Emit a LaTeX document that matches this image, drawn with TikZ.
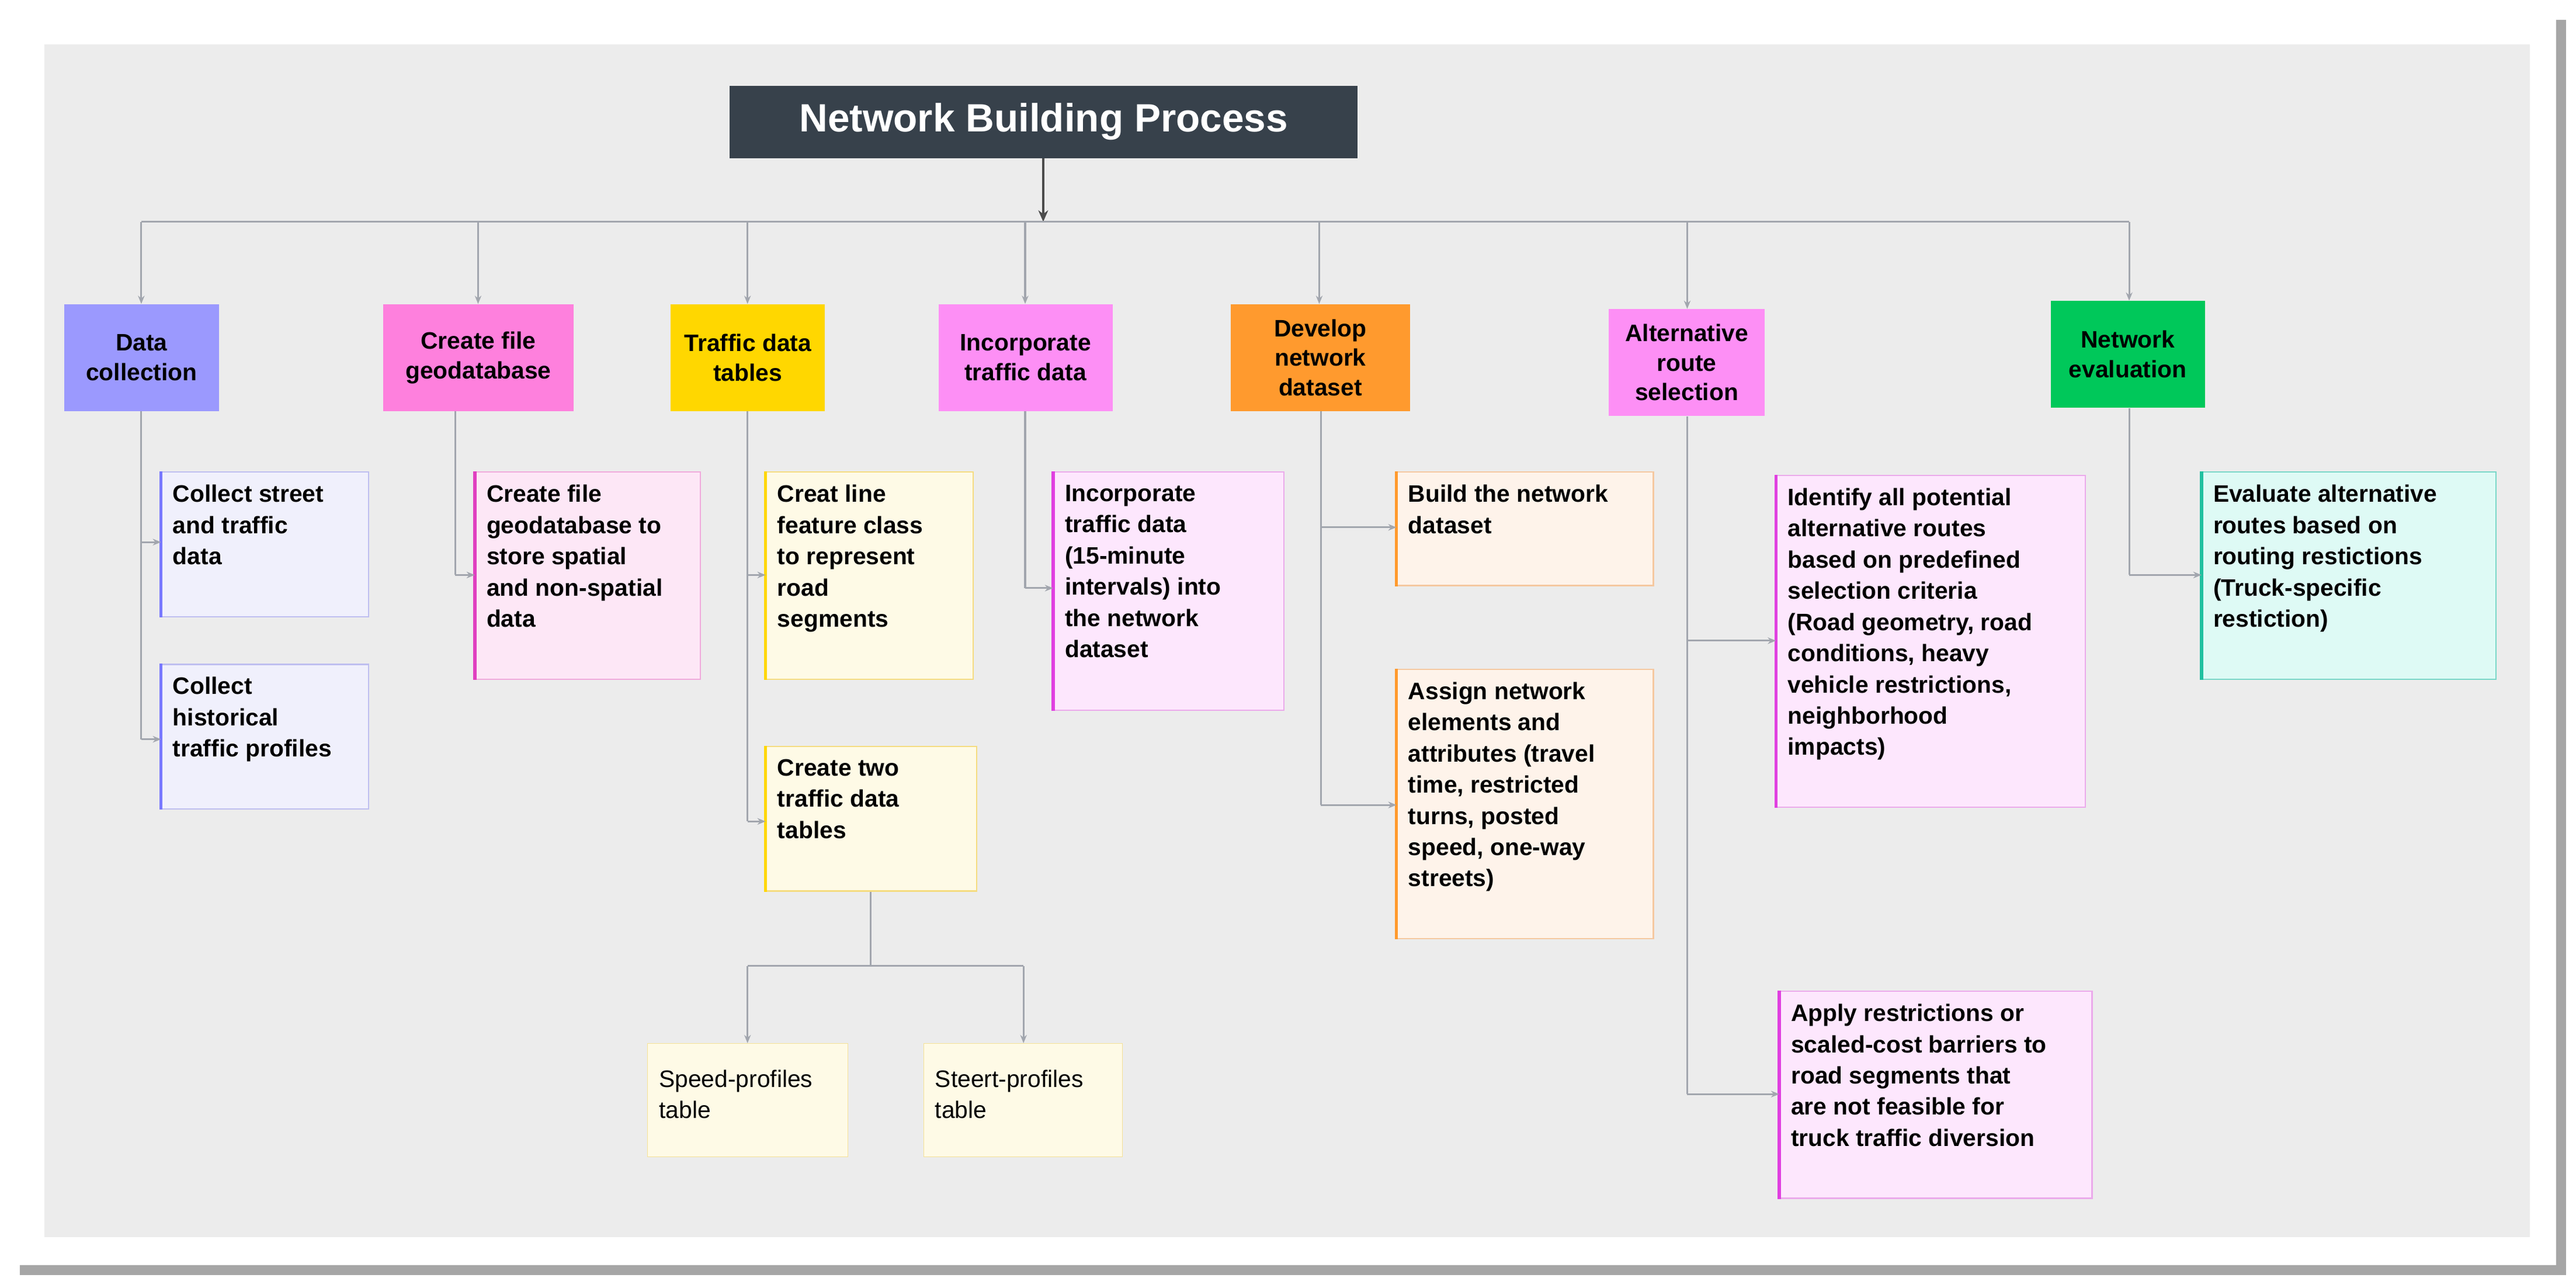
\documentclass[tikz,border=0pt]{standalone}
\usepackage{fontspec}
\setmainfont{Liberation Sans}
\usetikzlibrary{arrows.meta,calc}
\definecolor{bg}{HTML}{ECECEC}
\definecolor{con}{HTML}{A2A6AE}
\definecolor{ttl}{HTML}{37414B}
\definecolor{hA}{HTML}{9B99FE}\definecolor{fA}{HTML}{F0F0FC}\definecolor{dA}{HTML}{BEBEF0}\definecolor{bA}{HTML}{7878FF}
\definecolor{hB}{HTML}{FE80DD}\definecolor{fB}{HTML}{FDE7F6}\definecolor{dB}{HTML}{F0AADC}\definecolor{bB}{HTML}{E040C0}
\definecolor{hC}{HTML}{FFD700}\definecolor{fC}{HTML}{FEFAE6}\definecolor{dC}{HTML}{F5DC80}\definecolor{bC}{HTML}{FFD700}
\definecolor{hD}{HTML}{FD8FF5}\definecolor{fD}{HTML}{FDE7FD}\definecolor{dD}{HTML}{EBAAEB}\definecolor{bD}{HTML}{E040E0}
\definecolor{hE}{HTML}{FF9A2E}\definecolor{fE}{HTML}{FEF3EA}\definecolor{dE}{HTML}{F5C8A0}\definecolor{bE}{HTML}{FF9A2E}
\definecolor{hG}{HTML}{00C85A}\definecolor{fG}{HTML}{DEFAF5}\definecolor{dG}{HTML}{78D7C8}\definecolor{bG}{HTML}{20C0A0}
\definecolor{dS}{HTML}{F5E196}
\tikzset{
 x=1pt,y=-1pt,
 hdr/.style={minimum width=#1, minimum height=65, anchor=north west, align=center, font=\bfseries\fontsize{14.5}{18}\selectfont, inner sep=2pt},
 conn/.style={con, line width=1.1pt},
 arr/.style={conn, -{Stealth[length=5pt,width=4pt]}},
 txt/.style={anchor=north west, align=left, font=\bfseries\fontsize{14.5}{19}\selectfont, inner sep=0pt},
 ptxt/.style={anchor=north west, align=left, font=\fontsize{14.5}{19}\selectfont, inner sep=0pt},
}
% \subbox{name}{x}{y}{w}{h}{colour letter}{text}
\newcommand{\subbox}[7]{%
 \node[draw=d#6, fill=f#6, line width=0.8pt, minimum width=#4, minimum height=#5, anchor=north west, inner sep=0pt] (#1) at (#2,#3) {};
 \draw[b#6, line width=2pt] (#1.north west) -- (#1.south west);
 \node[txt] (#1t) at ($(#1.north west)+(7,8)$) {#7};
}
\begin{document}
\begin{tikzpicture}
\useasboundingbox (0,0) rectangle (1568,782);
\fill[black!35] (12,12) rectangle (1562,776);
\fill[white] (8,8) rectangle (1556,770);
\fill[bg] (27,27) rectangle (1540,753);
\node[minimum width=382, minimum height=44, anchor=north west, fill=ttl, text=white, font=\bfseries\fontsize{24}{28}\selectfont] (title) at (444,52) {Network Building Process};
\node[hdr=94, fill=hA] (h1) at (39,185) {Data\\collection};
\node[hdr=116, fill=hB] (h2) at (233,185) {Create file\\geodatabase};
\node[hdr=94, fill=hC] (h3) at (408,185) {Traffic data\\tables};
\node[hdr=106, fill=hD] (h4) at (571,185) {Incorporate\\traffic data};
\node[hdr=109, fill=hE] (h5) at (749,185) {Develop\\network\\dataset};
\node[hdr=95, fill=hD] (h6) at (979,188) {Alternative\\route\\selection};
\node[hdr=94, fill=hG] (h7) at (1248,183) {Network\\evaluation};
\coordinate (bus) at (635,135);
\draw[conn,-{Stealth[length=7pt,width=6pt]},black!70] (title.south -| bus) -- (bus);
\draw[conn] (86,135) -- (1296,135);
\foreach \n/\x in {h1/86,h2/291,h3/455,h4/624,h5/803,h6/1027,h7/1296}
  \draw[arr] (\x,135) -- (\n.north -| \x,0);
\subbox{a1}{98}{287}{126}{88}{A}{Collect street\\and traffic\\data}
\subbox{a2}{98}{404}{126}{88}{A}{Collect\\historical\\traffic profiles}
\subbox{b1}{289}{287}{137}{126}{B}{Create file\\geodatabase to\\store spatial\\and non-spatial\\data}
\subbox{c1}{466}{287}{126}{126}{C}{Creat line\\feature class\\to represent\\road\\segments}
\subbox{c2}{466}{454}{128}{88}{C}{Create two\\traffic data\\tables}
\subbox{d1}{641}{287}{140}{145}{D}{Incorporate\\traffic data\\(15-minute\\intervals) into\\the network\\dataset}
\subbox{e1}{850}{287}{156}{69}{E}{Build the network\\dataset}
\subbox{e2}{850}{407}{156}{164}{E}{Assign network\\elements and\\attributes (travel\\time, restricted\\turns, posted\\speed, one-way\\streets)}
\subbox{f1}{1081}{289}{188}{202}{D}{Identify all potential\\alternative routes\\based on predefined\\selection criteria\\(Road geometry, road\\conditions, heavy\\vehicle restrictions,\\neighborhood\\impacts)}
\subbox{f2}{1083}{603}{190}{126}{D}{Apply restrictions or\\scaled-cost barriers to\\road segments that\\are not feasible for\\truck traffic diversion}
\subbox{g1}{1340}{287}{179}{126}{G}{Evaluate alternative\\routes based on\\routing restictions\\(Truck-specific\\restiction)}
\node[draw=dS, fill=fC, minimum width=122, minimum height=69, anchor=north west, inner sep=0pt] (s1) at (394,635) {};
\node[ptxt] (s1t) at ($(s1.north west)+(7,16)$) {Speed-profiles\\table};
\node[draw=dS, fill=fC, minimum width=121, minimum height=69, anchor=north west, inner sep=0pt] (s2) at (562,635) {};
\node[ptxt] (s2t) at ($(s2.north west)+(7,16)$) {Steert-profiles\\table};
\draw[conn] (h1.south -| 86,0) -- (86,450);
\draw[arr] (86,330) -- (a1.west |- 0,330);
\draw[arr] (86,450) -- (a2.west |- 0,450);
\draw[conn] (h2.south -| 277,0) -- (277,350);
\draw[arr] (277,350) -- (b1.west |- 0,350);
\draw[conn] (h3.south -| 455,0) -- (455,500);
\draw[arr] (455,350) -- (c1.west |- 0,350);
\draw[arr] (455,500) -- (c2.west |- 0,500);
\draw[conn] (h4.south -| 624,0) -- (624,358);
\draw[arr] (624,358) -- (d1.west |- 0,358);
\draw[conn] (h5.south -| 804,0) -- (804,490);
\draw[arr] (804,321) -- (e1.west |- 0,321);
\draw[arr] (804,490) -- (e2.west |- 0,490);
\draw[conn] (h6.south -| 1027,0) -- (1027,666);
\draw[arr] (1027,390) -- (f1.west |- 0,390);
\draw[arr] (1027,666) -- (f2.west |- 0,666);
\draw[conn] (h7.south -| 1296,0) -- (1296,350);
\draw[arr] (1296,350) -- (g1.west |- 0,350);
\draw[conn] (c2.south -| 530,0) -- (530,588);
\draw[conn] (455,588) -- (623,588);
\draw[arr] (455,588) -- (s1.north -| 455,0);
\draw[arr] (623,588) -- (s2.north -| 623,0);
\end{tikzpicture}
\end{document}
